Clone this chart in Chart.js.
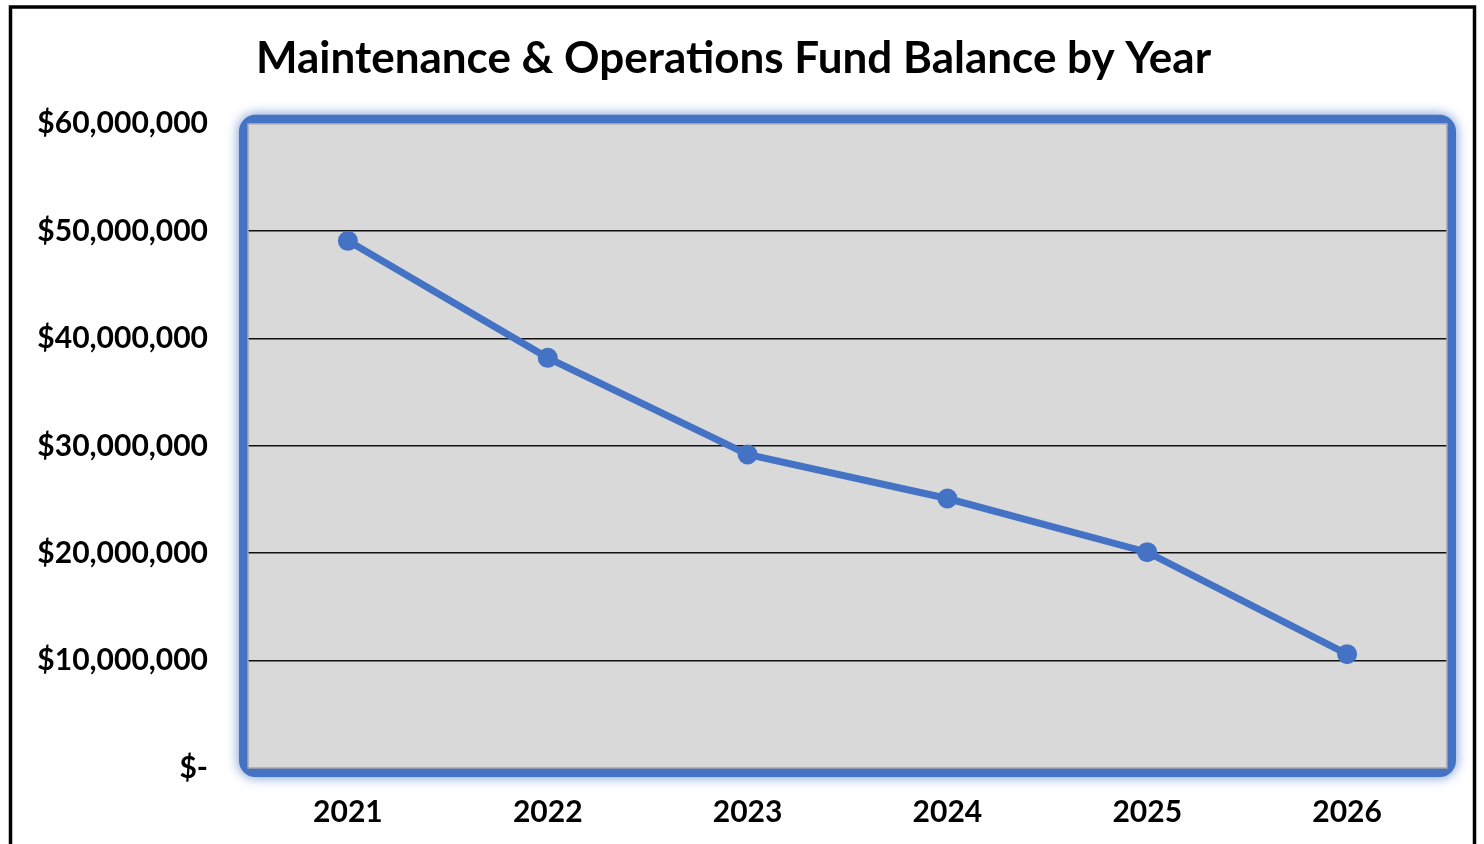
<!DOCTYPE html>
<html>
<head>
<meta charset="utf-8">
<script src="https://cdn.jsdelivr.net/npm/chart.js@4/dist/chart.umd.min.js"></script>
<style>
  html, body { margin: 0; padding: 0; background: #fff; }
  #wrap { position: relative; width: 1484px; height: 844px; }
</style>
</head>
<body>
<div id="wrap"><canvas id="fundChart" width="1484" height="844"></canvas></div>
<script>
const years = ['2021', '2022', '2023', '2024', '2025', '2026'];
const fundBalance = [49100000, 38200000, 29200000, 25100000, 20100000, 10600000];
const yTicks = [0, 10000000, 20000000, 30000000, 40000000, 50000000, 60000000];

const blue = '#4472C4';

function money(v) {
    if (v === 0) return '$-';
    return '$' + v.toLocaleString('en-US');
}

// gray plot area with a blurry blue frame, and the black outer frame
const plotFrame = {
    id: 'plotFrame',
    beforeDraw(chart) {
        const { ctx, chartArea: a } = chart;
        ctx.save();
        ctx.fillStyle = '#fff';
        ctx.fillRect(0, 0, chart.width, chart.height);

        ctx.shadowColor = 'rgba(68,114,196,0.85)';
        ctx.shadowBlur = 12;
        ctx.strokeStyle = blue;
        ctx.lineWidth = 9;
        ctx.beginPath();
        ctx.roundRect(a.left - 4.5, a.top - 4.5, a.width + 9, a.height + 9, 12);
        ctx.stroke();
        ctx.shadowBlur = 0;

        ctx.fillStyle = '#d9d9d9';
        ctx.fillRect(a.left, a.top, a.width, a.height);
        ctx.restore();
    },
    afterDraw(chart) {
        const { ctx, chartArea: a } = chart;
        ctx.save();
        ctx.strokeStyle = '#a6a6a6';
        ctx.lineWidth = 1.5;
        ctx.strokeRect(a.left, a.top, a.width, a.height);
        ctx.strokeStyle = '#000';
        ctx.lineWidth = 3.5;
        ctx.strokeRect(10.5, 7, 1464, 900);
        ctx.restore();
    }
};

const ctx = document.getElementById('fundChart').getContext('2d');
new Chart(ctx, {
    type: 'line',
    data: {
        labels: years,
        datasets: [{
            label: 'Fund Balance',
            data: fundBalance,
            borderColor: blue,
            backgroundColor: blue,
            borderWidth: 7,
            pointRadius: 10,
            pointBorderWidth: 0,
            pointBackgroundColor: blue,
            tension: 0,
            fill: false
        }]
    },
    options: {
        responsive: false,
        animation: false,
        layout: { padding: { left: 20, right: 37, top: 0, bottom: 17 } },
        plugins: {
            legend: { display: false },
            tooltip: { enabled: false },
            title: {
                display: true,
                text: 'Maintenance & Operations Fund Balance by Year',
                color: '#000',
                font: { family: 'Lato', size: 44, weight: 'bold' },
                padding: { top: 32, bottom: 39 }
            }
        },
        scales: {
            x: {
                offset: true,
                grid: { display: false, drawTicks: false },
                border: { display: false },
                ticks: {
                    color: '#000',
                    padding: 26,
                    font: { family: 'Lato', size: 30, weight: 'bold' }
                },
                afterFit(scale) { scale.height = 59; }
            },
            y: {
                min: 0,
                max: 60000000,
                afterBuildTicks(scale) { scale.ticks = yTicks.map(v => ({ value: v })); },
                grid: {
                    drawTicks: false,
                    lineWidth: 1.6,
                    color: c => (c.tick && (c.tick.value === 0 || c.tick.value === 60000000)) ? 'rgba(0,0,0,0)' : '#111'
                },
                border: { display: false },
                ticks: {
                    color: '#000',
                    padding: 40,
                    font: { family: 'Lato', size: 30, weight: 'bold' },
                    callback: v => money(v)
                },
                afterFit(scale) { scale.width = 228; }
            }
        }
    },
    plugins: [plotFrame]
});
</script>
</body>
</html>
